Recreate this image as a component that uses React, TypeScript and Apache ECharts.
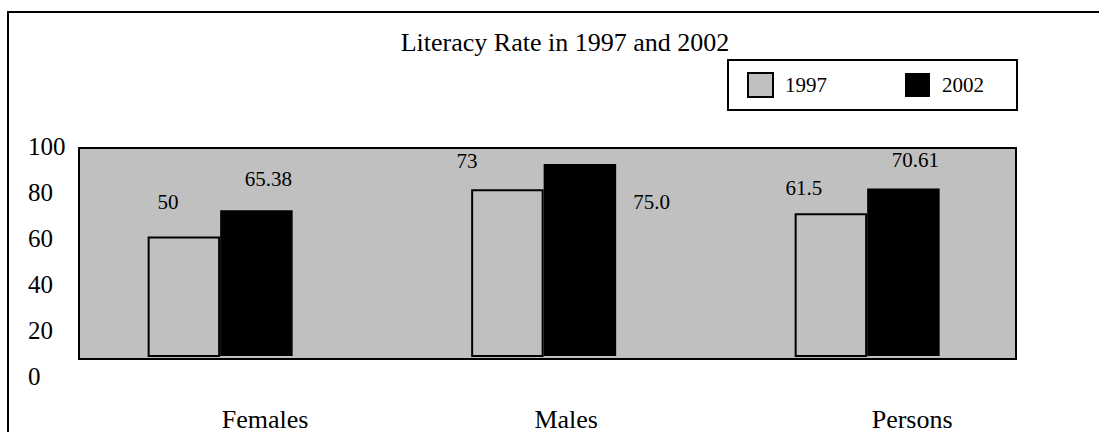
import React, { useEffect, useRef } from "react";
import * as echarts from "echarts";

// ---- data ----
const categories = ["Females", "Males", "Persons"];
const seriesNames = ["1997", "2002"];
// bar heights as drawn against the 0–100 axis
const values1997 = [60.4, 81.2, 70.6];
const values2002 = [72.0, 92.3, 81.5];
// value labels as printed on the chart
const labels1997 = ["50", "73", "61.5"];
const labels2002 = ["65.38", "75.0", "70.61"];
// y tick labels
const yTickMin = 0;
const yTickMax = 100;
const yTickStep = 20;

const FONT = "Liberation Serif";

export default function App() {
  const ref = useRef<HTMLDivElement>(null);

  useEffect(() => {
    if (!ref.current) return;
    const chart = echarts.init(ref.current, null, { renderer: "svg" });

    // label placement (layout only)
    const off1997 = [[-16, -23.5], [-40.5, -17.5], [-27, -15]];
    const off2002 = [[12, -20.5], [71.7, 48], [12, -18]];
    const catPad = [90, 45, 90];

    const mkData = (vals: number[], labs: string[], offs: number[][]) =>
      vals.map((v, i) => ({
        value: v,
        label: { formatter: labs[i], offset: offs[i] },
      }));

    const rich: Record<string, any> = {};
    categories.forEach((_, i) => {
      rich["p" + i] = {
        fontFamily: FONT,
        fontSize: 26,
        color: "#000",
        padding: [0, 0, 0, catPad[i]],
      };
    });

    const labelCommon = {
      show: true,
      position: "top",
      distance: 0,
      fontFamily: FONT,
      fontSize: 21,
      color: "#000",
    };

    chart.setOption({
      animation: false,
      backgroundColor: "#fff",
      title: {
        text: "Literacy Rate in 1997 and 2002",
        left: 560,
        textAlign: "center",
        top: 24,
        textStyle: { fontFamily: FONT, fontSize: 26, fontWeight: "normal", color: "#000" },
      },
      legend: {
        data: seriesNames,
        left: 728,
        top: 60,
        orient: "horizontal",
        padding: [12, 33, 12, 19],
        itemGap: 78,
        itemWidth: 25,
        itemHeight: 24,
        icon: "rect",
        backgroundColor: "#fff",
        borderColor: "#000",
        borderWidth: 2,
        textStyle: { fontFamily: FONT, fontSize: 21, color: "#000", padding: [0, 0, 0, 7] },
      },
      graphic: [
        {
          type: "rect",
          shape: { x: 8, y: 12, width: 1300, height: 700 },
          style: { fill: "none", stroke: "#000", lineWidth: 2 },
          silent: true,
          z: 100,
        },
      ],
      grid: [
        {
          show: true,
          left: 79,
          right: 83,
          top: 148,
          bottom: 73,
          backgroundColor: "#c0c0c0",
          borderColor: "#000",
          borderWidth: 2,
        },
        { left: 58.4, right: 70.1, top: 148, bottom: 73 },
        { left: 79, right: 83, top: 146.7, bottom: 55.3 },
      ],
      xAxis: [
        { gridIndex: 0, type: "value", show: false },
        {
          gridIndex: 1,
          type: "category",
          data: categories,
          axisLine: { show: false },
          axisTick: { show: false },
          axisLabel: {
            margin: 50,
            formatter: (v: string) => {
              const i = categories.indexOf(v);
              return "{p" + i + "|" + v + "}";
            },
            rich,
          },
        },
        { gridIndex: 2, type: "value", show: false },
      ],
      yAxis: [
        { gridIndex: 0, type: "value", show: false },
        { gridIndex: 1, type: "value", min: 7.7, max: 99.4, show: false },
        {
          gridIndex: 2,
          type: "value",
          min: yTickMin,
          max: yTickMax,
          interval: yTickStep,
          axisLine: { show: false },
          axisTick: { show: false },
          splitLine: { show: false },
          axisLabel: {
            align: "left",
            margin: 51,
            fontFamily: FONT,
            fontSize: 25,
            color: "#000",
          },
        },
      ],
      series: [
        {
          name: seriesNames[0],
          type: "bar",
          xAxisIndex: 1,
          yAxisIndex: 1,
          barWidth: 72.5,
          barGap: "0%",
          itemStyle: { color: "#c0c0c0", borderColor: "#000", borderWidth: 2 },
          label: labelCommon,
          data: mkData(values1997, labels1997, off1997),
        },
        {
          name: seriesNames[1],
          type: "bar",
          xAxisIndex: 1,
          yAxisIndex: 1,
          barWidth: 72.5,
          barGap: "0%",
          itemStyle: { color: "#000" },
          label: labelCommon,
          data: mkData(values2002, labels2002, off2002),
        },
      ],
    });

    return () => chart.dispose();
  }, []);

  return (
    <div
      ref={ref}
      style={{ position: "fixed", left: 0, top: 0, width: 1099, height: 432 }}
    />
  );
}
